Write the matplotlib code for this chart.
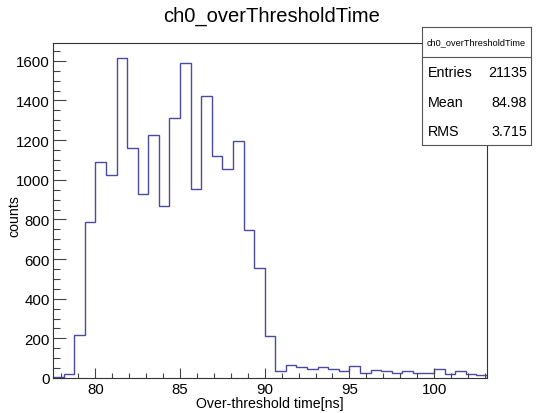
import numpy as np
import matplotlib
matplotlib.use("Agg")
import matplotlib.pyplot as plt
from matplotlib.ticker import MultipleLocator

plt.rcParams['font.family'] = ['Liberation Sans', 'DejaVu Sans']

# Histogram data (ROOT TH1, 41 bins of 0.625 ns starting at 77.5 ns)
x_low = 77.5
x_high = 103.125
counts = [5, 22, 215, 785, 1088, 1025, 1612, 1162, 928, 1228,
          866, 1313, 1588, 955, 1425, 1121, 1056, 1198, 748, 553,
          210, 35, 65, 53, 44, 58, 46, 37, 61, 26,
          42, 35, 27, 35, 27, 27, 44, 21, 33, 20, 14]
edges = np.linspace(x_low, x_high, len(counts) + 1)

title = "ch0_overThresholdTime"
xlabel = "Over-threshold time[ns]"
ylabel = "counts"
stats_labels = ["Entries", "Mean", "RMS"]
stats_values = ["21135", "84.98", "3.715"]

W, H = 544, 414
fig = plt.figure(figsize=(W / 100, H / 100), dpi=100)
fig.patch.set_facecolor('white')

L, R, T, B = 53, 487, 43.5, 379
ax = fig.add_axes([L / W, 1 - B / H, (R - L) / W, (B - T) / H])
ax.stairs(counts, edges, baseline=0, color='#4a4a9e', linewidth=1.0)
ax.set_xlim(x_low, x_high)
ax.set_ylim(0, 1.05 * max(counts))

ax.xaxis.set_major_locator(MultipleLocator(5))
ax.xaxis.set_minor_locator(MultipleLocator(1))
ax.yaxis.set_major_locator(MultipleLocator(200))
ax.yaxis.set_minor_locator(MultipleLocator(50))

ax.tick_params(axis='x', which='major', direction='in', length=7.2, width=0.8,
               labelsize=10.8, pad=3, color='#444444')
ax.tick_params(axis='x', which='minor', direction='in', length=3.6, width=0.8,
               color='#444444')
ax.tick_params(axis='y', which='major', direction='in', length=9.4, width=0.8,
               labelsize=10.8, pad=2.5, color='#444444')
ax.tick_params(axis='y', which='minor', direction='in', length=5, width=0.8,
               color='#444444')
for s in ax.spines.values():
    s.set_linewidth(0.8)
    s.set_color('#333333')

ax.set_xlabel(xlabel, fontsize=10.2, labelpad=0)
ax.set_ylabel(ylabel, fontsize=10.2)
ax.yaxis.set_label_coords((21 - L) / (R - L), (B - 216) / (B - T))

fig.text(272 / W, 1 - 16 / H, title, ha='center', va='center', fontsize=14.5)

# Stats box
bx0, bx1, by0, by1 = 422, 531, 28, 146
sax = fig.add_axes([bx0 / W, 1 - by1 / H, (bx1 - bx0) / W, (by1 - by0) / H])
sax.set_xticks([])
sax.set_yticks([])
sax.set_xlim(0, 1)
sax.set_ylim(0, 1)
sax.set_facecolor('white')
for s in sax.spines.values():
    s.set_linewidth(0.8)
    s.set_color('#555555')
sep = 1 - (57.5 - by0) / (by1 - by0)
sax.plot([0, 1], [sep, sep], color='#555555', lw=0.8)
sax.text(0.5, 1 - (43 - by0) / (by1 - by0), title, ha='center', va='center', fontsize=6.6)
rows_y = [73, 103, 132]
for lab, val, yy in zip(stats_labels, stats_values, rows_y):
    yy_ax = 1 - (yy - by0) / (by1 - by0)
    sax.text(6 / (bx1 - bx0), yy_ax, lab, ha='left', va='center', fontsize=10.3)
    sax.text(1 - 4 / (bx1 - bx0), yy_ax, val, ha='right', va='center', fontsize=10.3)

fig.savefig('out.png', dpi=100)
